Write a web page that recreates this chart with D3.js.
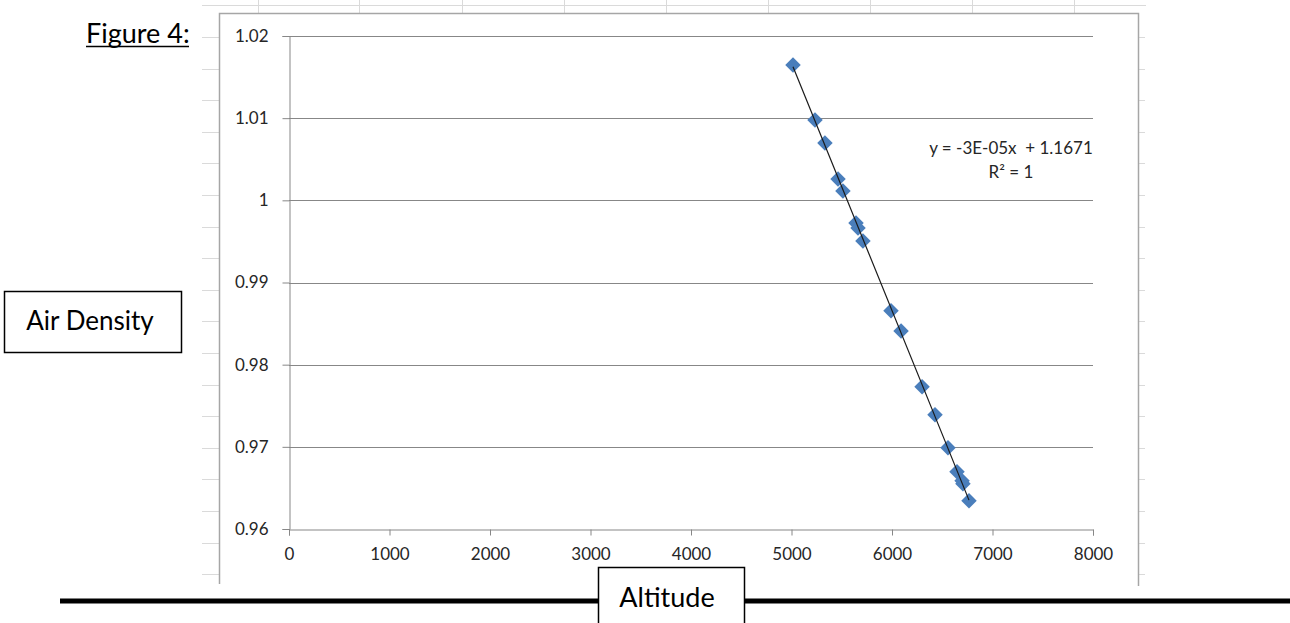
<!DOCTYPE html>
<html>
<head>
<meta charset="utf-8">
<script src="https://cdn.jsdelivr.net/npm/d3@7"></script>
<style>
  html, body { margin: 0; padding: 0; background: #fff; }
  svg { display: block; }
  text { font-family: Lato, "Noto Sans", sans-serif; }
</style>
</head>
<body>
<svg id="chart"></svg>
<script>
// Data
const altitude = [5015, 5234, 5333, 5463, 5512, 5642, 5662, 5711, 5990, 6090, 6299, 6428, 6557, 6647, 6697, 6706, 6766];
const density = [1.01647, 1.00978, 1.00698, 1.0026, 1.00114, 0.99725, 0.99664, 0.99506, 0.98655, 0.98411, 0.9773, 0.97389, 0.96988, 0.96696, 0.96586, 0.9655, 0.96343];
const xTicks = [0, 1000, 2000, 3000, 4000, 5000, 6000, 7000, 8000];
const yTicks = [0.96, 0.97, 0.98, 0.99, 1, 1.01, 1.02];
const trendLabel = ["y = -3E-05x  + 1.1671", "R\u00b2 = 1"];

const W = 1290, H = 623;
const svg = d3.select("#chart").attr("width", W).attr("height", H);

// faint spreadsheet grid behind the chart object
const sheet = svg.append("g").attr("stroke", "#dadada").attr("stroke-width", 1);
sheet.append("line").attr("x1", 202).attr("x2", 1146).attr("y1", 5.5).attr("y2", 5.5);
[258, 359, 462, 564, 666, 768, 870, 972, 1074].forEach((x) => {
  sheet.append("line").attr("x1", x + 0.5).attr("x2", x + 0.5).attr("y1", 0).attr("y2", 13);
});
for (let y = 37; y < 580; y += 31.6) {
  const yy = Math.round(y) + 0.5;
  sheet.append("line").attr("x1", 202).attr("x2", 219).attr("y1", yy).attr("y2", yy);
  sheet.append("line").attr("x1", 1138).attr("x2", 1145).attr("y1", yy).attr("y2", yy);
}

// chart object border
const frame = svg.append("g").attr("stroke", "#a6a6a6").attr("stroke-width", 1.5).attr("fill", "none");
frame.append("path").attr("d", "M219.5,584 V13.5 H1138.5 V586");

// plot area
const margin = { left: 289, right: 1093, top: 36, bottom: 529 };
const x = d3.scaleLinear().domain([0, 8000]).range([margin.left, margin.right]);
const y = d3.scaleLinear().domain([0.96, 1.02]).range([margin.bottom, margin.top]);

// horizontal gridlines
svg.append("g")
  .selectAll("line")
  .data(yTicks.filter((d) => d !== 0.96))
  .enter()
  .append("line")
  .attr("x1", x(0))
  .attr("x2", x(8000))
  .attr("y1", (d) => Math.round(y(d)) + 0.5)
  .attr("y2", (d) => Math.round(y(d)) + 0.5)
  .attr("stroke", "#878787")
  .attr("stroke-width", 1);

// axes
const xAxis = d3.axisBottom(x).tickValues(xTicks).tickFormat(d3.format("d")).tickSize(6).tickPadding(12);
const yAxis = d3.axisLeft(y).tickValues(yTicks).tickFormat((d) => String(+d.toFixed(2))).tickSize(7).tickPadding(14);

const gx = svg.append("g")
  .attr("transform", `translate(0, ${Math.round(y(0.96)) + 0.5})`)
  .call(xAxis);
const gy = svg.append("g")
  .attr("transform", `translate(${Math.round(x(0)) + 0.5}, 0)`)
  .call(yAxis);

[gx, gy].forEach((g) => {
  g.select(".domain").attr("stroke", "#878787");
  g.selectAll(".tick line").attr("stroke", "#878787");
  g.selectAll(".tick text")
    .attr("fill", "#262626")
    .style("font-family", "Lato, sans-serif")
    .style("font-size", "17px");
});

// markers
svg.append("g")
  .selectAll("path")
  .data(altitude.map((a, i) => [a, density[i]]))
  .enter()
  .append("path")
  .attr("d", d3.symbol(d3.symbolSquare, 120))
  .attr("transform", (d) => `translate(${x(d[0])}, ${y(d[1])}) rotate(45)`)
  .attr("fill", "#4a7ebb");

// linear trendline (least squares over the data)
const mx = d3.mean(altitude), my = d3.mean(density);
const slope = d3.sum(altitude, (a, i) => (a - mx) * (density[i] - my)) / d3.sum(altitude, (a) => (a - mx) * (a - mx));
const icept = my - slope * mx;
const [xa, xb] = d3.extent(altitude);
svg.append("line")
  .attr("x1", x(xa)).attr("y1", y(icept + slope * xa))
  .attr("x2", x(xb)).attr("y2", y(icept + slope * xb))
  .attr("stroke", "#1a1a1a")
  .attr("stroke-width", 1.2);

// trendline label
svg.append("text")
  .attr("x", 1011).attr("y", 154)
  .attr("text-anchor", "middle")
  .style("font-size", "17px")
  .attr("fill", "#262626")
  .attr("xml:space", "preserve")
  .style("white-space", "pre")
  .text(trendLabel[0]);
svg.append("text")
  .attr("x", 1011).attr("y", 178)
  .attr("text-anchor", "middle")
  .style("font-size", "17px")
  .attr("fill", "#262626")
  .text(trendLabel[1]);

// Figure caption
svg.append("text")
  .attr("x", 86).attr("y", 43)
  .style("font-size", "27px")
  .attr("fill", "#000")
  .text("Figure 4:");
svg.append("line")
  .attr("x1", 86).attr("x2", 189).attr("y1", 46.5).attr("y2", 46.5)
  .attr("stroke", "#000").attr("stroke-width", 1.5);

// y label box
svg.append("rect")
  .attr("x", 4.5).attr("y", 291.5).attr("width", 177).attr("height", 61)
  .attr("fill", "#fff").attr("stroke", "#000").attr("stroke-width", 1.5);
svg.append("text")
  .attr("x", 90).attr("y", 330)
  .attr("text-anchor", "middle")
  .style("font-size", "26px")
  .attr("fill", "#000")
  .text("Air Density");

// thick rule with x label box
svg.append("line")
  .attr("x1", 60).attr("x2", W).attr("y1", 601).attr("y2", 601)
  .attr("stroke", "#000").attr("stroke-width", 5);
svg.append("rect")
  .attr("x", 598.5).attr("y", 567.5).attr("width", 146).attr("height", 70)
  .attr("fill", "#fff").attr("stroke", "#000").attr("stroke-width", 1.5);
svg.append("text")
  .attr("x", 667).attr("y", 607)
  .attr("text-anchor", "middle")
  .style("font-size", "27px")
  .attr("fill", "#000")
  .text("Altitude");
</script>
</body>
</html>
